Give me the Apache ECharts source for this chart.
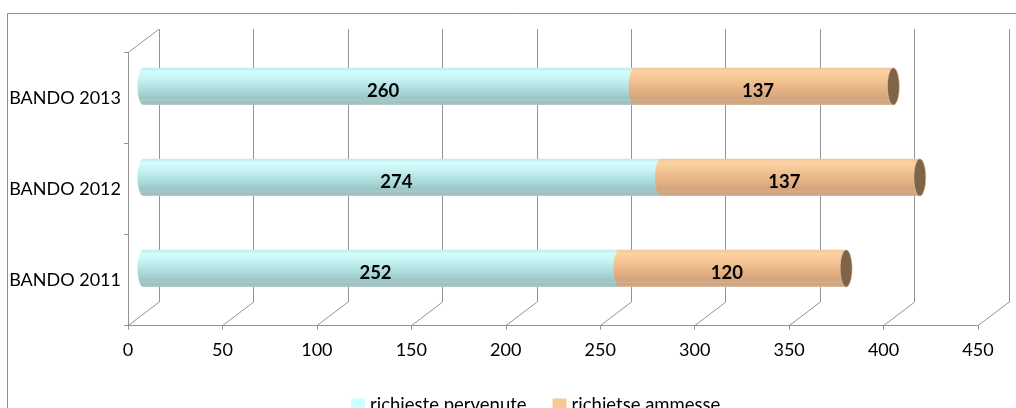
<!DOCTYPE html>
<html>
<head>
<meta charset="utf-8">
<script src="https://cdn.jsdelivr.net/npm/echarts@6/dist/echarts.min.js"></script>
<style>
  html, body { margin: 0; padding: 0; background: #ffffff; }
  #chart { width: 1016px; height: 408px; }
</style>
</head>
<body>
<div id="chart"></div>
<script>
// Categories (bottom to top) and stacked values
const categories = ['BANDO 2011', 'BANDO 2012', 'BANDO 2013'];
const pervenute = [252, 274, 260];
const ammesse = [120, 137, 137];
const seriesNames = ['richieste pervenute', 'richietse ammesse'];
const xTicks = [0, 50, 100, 150, 200, 250, 300, 350, 400, 450];

// Pseudo-3D depth of the plot box (back wall offset from the front plane)
const DX = 31, DY = -23.5;
const FONT = 'Lato, "Open Sans", sans-serif';
const GRID_COLOR = '#939393';

const chart = echarts.init(document.getElementById('chart'), null, { renderer: 'canvas' });

function grad(stops) {
  return new echarts.graphic.LinearGradient(0, 0, 0, 1,
    stops.map(s => ({ offset: s[0], color: s[1] })));
}
const cyanFill = () => grad([[0, '#bfe9e9'], [0.1, '#d3fdfd'], [0.3, '#c6f3f3'], [0.55, '#b0dfdf'],
  [0.72, '#a3d1d1'], [0.8, '#9cc6c6'], [0.88, '#a5caca'], [0.94, '#9fbdbd'], [1, '#b4cccc']]);
const orangeFill = () => grad([[0, '#eec69c'], [0.1, '#fdd1a3'], [0.3, '#f5c695'], [0.55, '#e6b487'],
  [0.72, '#dbaa7f'], [0.8, '#d3a47c'], [0.88, '#d6aa84'], [0.94, '#c9a382'], [1, '#d9bca2']]);

// Cylinder segment drawn at mid-depth of the box
function cylinderRender(fillFn, withCap) {
  return function (params, api) {
    const s = api.value(0), e = api.value(1), idx = api.value(2), v = api.value(3);
    const p0 = api.coord([s, idx]);
    const p1 = api.coord([e, idx]);
    const h = api.size([0, 1])[1] * 0.41;
    const x0 = p0[0] + DX / 2, x1 = p1[0] + DX / 2, cy = p0[1] + DY / 2;
    const rx = 6;
    const children = [
      { type: 'ellipse', shape: { cx: x0, cy: cy, rx: rx, ry: h / 2 }, style: { fill: fillFn() } },
      { type: 'rect', shape: { x: x0, y: cy - h / 2, width: x1 - x0, height: h }, style: { fill: fillFn() } }
    ];
    if (withCap) {
      children.push({ type: 'ellipse', shape: { cx: x1, cy: cy, rx: rx, ry: h / 2 },
        style: { fill: '#806447', stroke: '#e9cdb2', lineWidth: 0.6 } });
    }
    children.push({ type: 'text', z2: 10, style: {
      text: String(v), x: (x0 + x1) / 2 - 6, y: cy + 5, align: 'center', verticalAlign: 'middle',
      font: 'bold 18.5px ' + FONT, fill: '#000000' } });
    return { type: 'group', children: children };
  };
}

// Back wall gridline feet and the left wall top edge, joined to the front plane
function depthRender(params, api) {
  const cs = params.coordSys;
  const v = api.value(0);
  const x = api.coord([v, 0])[0];
  const yb = cs.y + cs.height;
  const lines = [{ type: 'line', shape: { x1: x, y1: yb, x2: x + DX, y2: yb + DY },
    style: { stroke: GRID_COLOR, lineWidth: 1 } }];
  if (params.dataIndex === 0) {
    lines.push({ type: 'line', shape: { x1: cs.x, y1: cs.y, x2: cs.x + DX, y2: cs.y + DY },
      style: { stroke: GRID_COLOR, lineWidth: 1 } });
  }
  return { type: 'group', children: lines };
}

const option = {
  backgroundColor: '#ffffff',
  animation: false,
  textStyle: { fontFamily: FONT },
  graphic: [{
    type: 'rect', z: -10, silent: true,
    shape: { x: 7.5, y: 13.5, width: 1100, height: 500 },
    style: { fill: null, stroke: '#8c8c8c', lineWidth: 1 }
  }],
  legend: {
    top: 391, left: 346,
    itemWidth: 14, itemHeight: 14, itemGap: 26, icon: 'rect',
    textStyle: { fontFamily: FONT, fontSize: 18.5, color: '#000000' },
    data: [
      { name: seriesNames[0], itemStyle: { color: '#ccffff' } },
      { name: seriesNames[1], itemStyle: { color: '#fac793' } }
    ]
  },
  grid: [
    { left: 128, right: 38, top: 52.7, bottom: 82.3 },
    { left: 128 + DX, right: 38 - DX, top: 52.7 + DY, bottom: 82.3 - DY }
  ],
  xAxis: [{
    gridIndex: 0, type: 'value', min: 0, max: 450, interval: 50,
    axisLine: { show: true, lineStyle: { color: GRID_COLOR } },
    axisTick: { show: true, length: 4, lineStyle: { color: GRID_COLOR } },
    splitLine: { show: false },
    axisLabel: { color: '#000000', fontSize: 18, fontFamily: FONT, margin: 15 }
  }, {
    gridIndex: 1, type: 'value', min: 0, max: 450, interval: 50,
    axisLine: { show: false }, axisTick: { show: false }, axisLabel: { show: false },
    splitLine: { show: true, lineStyle: { color: GRID_COLOR, width: 1 } }
  }],
  yAxis: [{
    gridIndex: 0, type: 'category', data: categories,
    axisLine: { show: true, lineStyle: { color: GRID_COLOR } },
    axisTick: { show: true, length: 4, lineStyle: { color: GRID_COLOR } },
    axisLabel: { color: '#000000', fontSize: 18, fontFamily: FONT, margin: 7 }
  }, {
    gridIndex: 1, type: 'value', show: false, splitLine: { show: false }
  }],
  series: [
    {
      type: 'custom', name: 'depth', xAxisIndex: 0, yAxisIndex: 0, silent: true,
      renderItem: depthRender,
      data: xTicks.map(t => [t])
    },
    {
      type: 'custom', name: seriesNames[0], xAxisIndex: 0, yAxisIndex: 0,
      itemStyle: { color: '#ccffff' },
      renderItem: cylinderRender(cyanFill, false),
      encode: { x: [0, 1], y: 2 },
      data: categories.map((c, i) => [0, pervenute[i], i, pervenute[i]])
    },
    {
      type: 'custom', name: seriesNames[1], xAxisIndex: 0, yAxisIndex: 0,
      itemStyle: { color: '#fac793' },
      renderItem: cylinderRender(orangeFill, true),
      encode: { x: [0, 1], y: 2 },
      data: categories.map((c, i) => [pervenute[i], pervenute[i] + ammesse[i], i, ammesse[i]])
    }
  ]
};
chart.setOption(option);
</script>
</body>
</html>
